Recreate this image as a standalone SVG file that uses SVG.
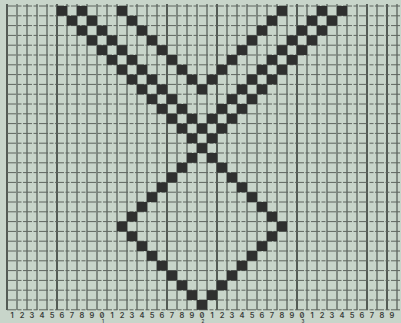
<svg xmlns="http://www.w3.org/2000/svg" xmlns:xlink="http://www.w3.org/1999/xlink" width="401" height="323" viewBox="0 0 401 323">
<style>
.bg{fill:#c8d5ca}
.v{stroke:#464c47;stroke-width:1.1;fill:none}
.vk{stroke:#2e332f;stroke-width:1.5;fill:none}
.h{stroke:#5e655f;stroke-width:1;fill:none;stroke-dasharray:9 1.5 4 1.5}
.cell{fill:#2f302f}
.lbl{font-family:Inter,"DejaVu Sans",sans-serif;font-size:7.5px;font-weight:600;fill:#3a3d3a;text-anchor:middle;font-variant-numeric:slashed-zero;font-feature-settings:"zero" 1}
.tens{font-family:Inter,"DejaVu Sans",sans-serif;font-size:4.5px;font-weight:600;fill:#3a3d3a;text-anchor:middle}
</style>
<defs>
<rect id="c" class="cell" width="10" height="9.8"/>
</defs>
<rect class="bg" x="0" y="0" width="401" height="323"/>
<g id="grid">
<path class="v" d="M17,4V310M27,4V310M37,4V310M47,4V310M67,4V310M77,4V310M87,4V310M97,4V310M107,4V310M117,4V310M127,4V310M137,4V310M147,4V310M157,4V310M177,4V310M187,4V310M197,4V310M207,4V310M227,4V310M237,4V310M247,4V310M257,4V310M267,4V310M277,4V310M287,4V310M307,4V310M317,4V310M327,4V310M337,4V310M347,4V310M357,4V310M377,4V310M397,4V310"/>
<path class="vk" d="M7,4V310M57,4V310M167,4V310M217,4V310M297,4V310M367,4V310M387,4V310"/>
<path class="h" d="M7,6H401M7,15.8H401M7,25.6H401M7,35.4H401M7,45.2H401M7,55H401M7,64.8H401M7,74.6H401M7,84.4H401M7,94.2H401M7,104H401M7,113.8H401M7,123.6H401M7,133.4H401M7,143.2H401M7,153H401M7,162.8H401M7,172.6H401M7,182.4H401M7,192.2H401M7,202H401M7,211.8H401M7,221.6H401M7,231.4H401M7,241.2H401M7,251H401M7,260.8H401M7,270.6H401M7,280.4H401M7,290.2H401M7,300H401M7,309.8H401"/>
</g>
<g id="pattern">
<use href="#c" x="57" y="6"/><use href="#c" x="77" y="6"/><use href="#c" x="117" y="6"/><use href="#c" x="277" y="6"/><use href="#c" x="317" y="6"/><use href="#c" x="337" y="6"/>
<use href="#c" x="67" y="15.8"/><use href="#c" x="87" y="15.8"/><use href="#c" x="127" y="15.8"/><use href="#c" x="267" y="15.8"/><use href="#c" x="307" y="15.8"/><use href="#c" x="327" y="15.8"/>
<use href="#c" x="77" y="25.6"/><use href="#c" x="97" y="25.6"/><use href="#c" x="137" y="25.6"/><use href="#c" x="257" y="25.6"/><use href="#c" x="297" y="25.6"/><use href="#c" x="317" y="25.6"/>
<use href="#c" x="87" y="35.4"/><use href="#c" x="107" y="35.4"/><use href="#c" x="147" y="35.4"/><use href="#c" x="247" y="35.4"/><use href="#c" x="287" y="35.4"/><use href="#c" x="307" y="35.4"/>
<use href="#c" x="97" y="45.2"/><use href="#c" x="117" y="45.2"/><use href="#c" x="157" y="45.2"/><use href="#c" x="237" y="45.2"/><use href="#c" x="277" y="45.2"/><use href="#c" x="297" y="45.2"/>
<use href="#c" x="107" y="55"/><use href="#c" x="127" y="55"/><use href="#c" x="167" y="55"/><use href="#c" x="227" y="55"/><use href="#c" x="267" y="55"/><use href="#c" x="287" y="55"/>
<use href="#c" x="117" y="64.8"/><use href="#c" x="137" y="64.8"/><use href="#c" x="177" y="64.8"/><use href="#c" x="217" y="64.8"/><use href="#c" x="257" y="64.8"/><use href="#c" x="277" y="64.8"/>
<use href="#c" x="127" y="74.6"/><use href="#c" x="147" y="74.6"/><use href="#c" x="187" y="74.6"/><use href="#c" x="207" y="74.6"/><use href="#c" x="247" y="74.6"/><use href="#c" x="267" y="74.6"/>
<use href="#c" x="137" y="84.4"/><use href="#c" x="157" y="84.4"/><use href="#c" x="197" y="84.4"/><use href="#c" x="237" y="84.4"/><use href="#c" x="257" y="84.4"/>
<use href="#c" x="147" y="94.2"/><use href="#c" x="167" y="94.2"/><use href="#c" x="227" y="94.2"/><use href="#c" x="247" y="94.2"/>
<use href="#c" x="157" y="104"/><use href="#c" x="177" y="104"/><use href="#c" x="217" y="104"/><use href="#c" x="237" y="104"/>
<use href="#c" x="167" y="113.8"/><use href="#c" x="187" y="113.8"/><use href="#c" x="207" y="113.8"/><use href="#c" x="227" y="113.8"/>
<use href="#c" x="177" y="123.6"/><use href="#c" x="197" y="123.6"/><use href="#c" x="217" y="123.6"/>
<use href="#c" x="187" y="133.4"/><use href="#c" x="207" y="133.4"/>
<use href="#c" x="197" y="143.2"/>
<use href="#c" x="187" y="153"/><use href="#c" x="207" y="153"/>
<use href="#c" x="177" y="162.8"/><use href="#c" x="217" y="162.8"/>
<use href="#c" x="167" y="172.6"/><use href="#c" x="227" y="172.6"/>
<use href="#c" x="157" y="182.4"/><use href="#c" x="237" y="182.4"/>
<use href="#c" x="147" y="192.2"/><use href="#c" x="247" y="192.2"/>
<use href="#c" x="137" y="202"/><use href="#c" x="257" y="202"/>
<use href="#c" x="127" y="211.8"/><use href="#c" x="267" y="211.8"/>
<use href="#c" x="117" y="221.6"/><use href="#c" x="277" y="221.6"/>
<use href="#c" x="127" y="231.4"/><use href="#c" x="267" y="231.4"/>
<use href="#c" x="137" y="241.2"/><use href="#c" x="257" y="241.2"/>
<use href="#c" x="147" y="251"/><use href="#c" x="247" y="251"/>
<use href="#c" x="157" y="260.8"/><use href="#c" x="237" y="260.8"/>
<use href="#c" x="167" y="270.6"/><use href="#c" x="227" y="270.6"/>
<use href="#c" x="177" y="280.4"/><use href="#c" x="217" y="280.4"/>
<use href="#c" x="187" y="290.2"/><use href="#c" x="207" y="290.2"/>
<use href="#c" x="197" y="300"/>
</g>
<g id="labels">
<text class="lbl" x="12" y="318">1</text><text class="lbl" x="22" y="318">2</text><text class="lbl" x="32" y="318">3</text><text class="lbl" x="42" y="318">4</text><text class="lbl" x="52" y="318">5</text><text class="lbl" x="62" y="318">6</text><text class="lbl" x="72" y="318">7</text><text class="lbl" x="82" y="318">8</text><text class="lbl" x="92" y="318">9</text><text class="lbl" x="102" y="318">0</text>
<text class="lbl" x="112" y="318">1</text><text class="lbl" x="122" y="318">2</text><text class="lbl" x="132" y="318">3</text><text class="lbl" x="142" y="318">4</text><text class="lbl" x="152" y="318">5</text><text class="lbl" x="162" y="318">6</text><text class="lbl" x="172" y="318">7</text><text class="lbl" x="182" y="318">8</text><text class="lbl" x="192" y="318">9</text><text class="lbl" x="202" y="318">0</text>
<text class="lbl" x="212" y="318">1</text><text class="lbl" x="222" y="318">2</text><text class="lbl" x="232" y="318">3</text><text class="lbl" x="242" y="318">4</text><text class="lbl" x="252" y="318">5</text><text class="lbl" x="262" y="318">6</text><text class="lbl" x="272" y="318">7</text><text class="lbl" x="282" y="318">8</text><text class="lbl" x="292" y="318">9</text><text class="lbl" x="302" y="318">0</text>
<text class="lbl" x="312" y="318">1</text><text class="lbl" x="322" y="318">2</text><text class="lbl" x="332" y="318">3</text><text class="lbl" x="342" y="318">4</text><text class="lbl" x="352" y="318">5</text><text class="lbl" x="362" y="318">6</text><text class="lbl" x="372" y="318">7</text><text class="lbl" x="382" y="318">8</text><text class="lbl" x="392" y="318">9</text>
<text class="tens" x="103" y="322.6">1</text><text class="tens" x="203" y="322.6">2</text><text class="tens" x="303" y="322.6">3</text>
</g>
</svg>
